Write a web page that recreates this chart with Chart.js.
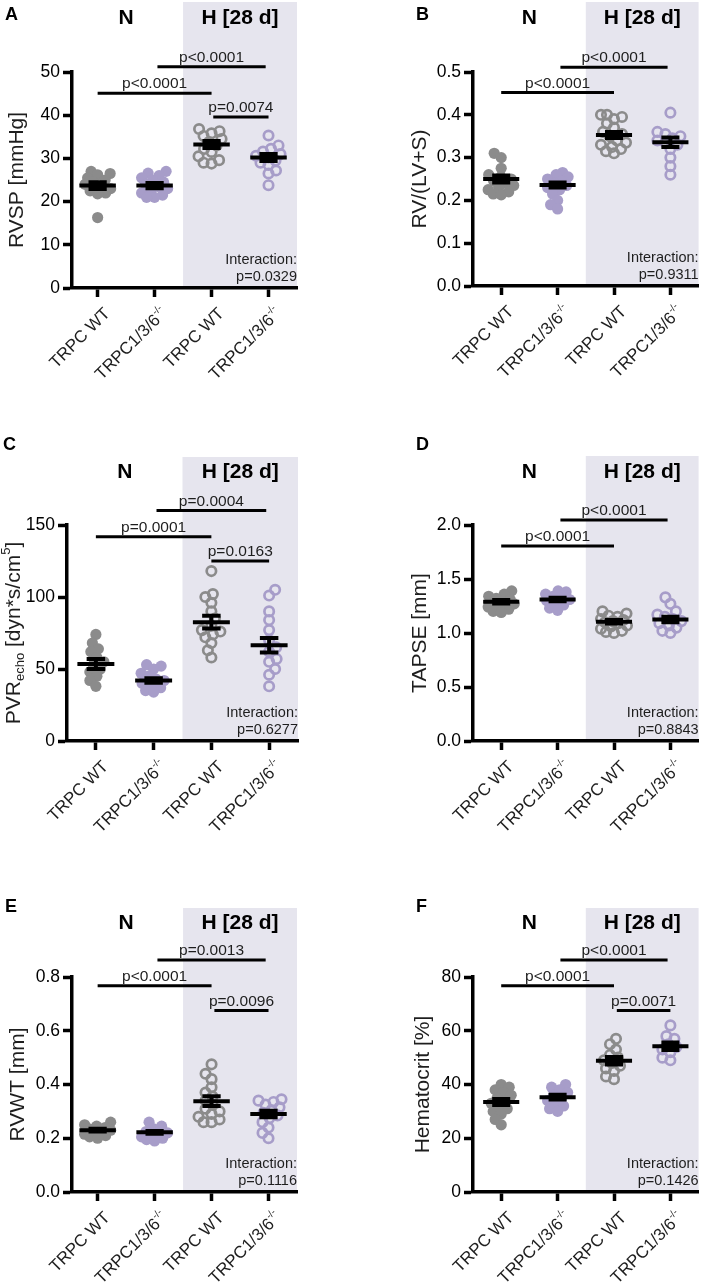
<!DOCTYPE html>
<html><head><meta charset="utf-8">
<script src="https://cdn.jsdelivr.net/npm/chart.js@4.4.0/dist/chart.umd.min.js"></script>
<style>
html,body{margin:0;padding:0;background:#fff;}
#wrap{position:relative;width:706px;height:1288px;overflow:hidden;background:#fff;}
.pn{position:absolute;}
canvas{display:block;}
</style></head><body><div id="wrap"></div>
<script>
// ---------- categories / labels ----------
const groups = ['TRPC WT', 'TRPC1/3/6', 'TRPC WT', 'TRPC1/3/6'];
const groupSup = ['', '-/-', '', '-/-'];
const conditions = ['N', 'H [28 d]'];
const panelLetters = ['A', 'B', 'C', 'D', 'E', 'F'];

// ---------- A: RVSP [mmHg] ----------
const rvspWtN = [27.0, 26.5, 26.2, 25.5, 25.0, 24.5, 24.0, 23.5, 23.0, 22.5, 22.0, 21.8, 16.3];
const rvspKoN = [27.0, 26.6, 26.0, 25.5, 25.0, 24.5, 24.0, 23.5, 23.0, 22.5, 22.0, 21.5, 21.0, 21.0];
const rvspWtH = [36.8, 36.3, 35.8, 35.2, 34.5, 33.8, 33.0, 32.2, 31.5, 30.5, 29.6, 29.0, 28.8];
const rvspKoH = [35.3, 33.0, 32.2, 31.6, 31.0, 30.6, 30.2, 29.5, 29.0, 28.5, 27.2, 26.5, 23.8];
const rvspMean = [23.7, 23.7, 33.2, 30.2];
const rvspSem = [0.8, 0.6, 0.8, 0.8];
const rvspTicks = [0, 10, 20, 30, 40, 50];

// ---------- B: RV/(LV+S) ----------
const rvWtN = [0.31, 0.30, 0.275, 0.26, 0.255, 0.25, 0.245, 0.24, 0.235, 0.23, 0.225, 0.22, 0.215, 0.213];
const rvKoN = [0.265, 0.26, 0.255, 0.25, 0.245, 0.24, 0.235, 0.23, 0.225, 0.215, 0.20, 0.19, 0.18];
const rvWtH = [0.40, 0.40, 0.395, 0.39, 0.38, 0.37, 0.36, 0.355, 0.35, 0.34, 0.335, 0.33, 0.325, 0.32, 0.315, 0.31];
const rvKoH = [0.405, 0.36, 0.355, 0.35, 0.345, 0.34, 0.335, 0.33, 0.32, 0.30, 0.28, 0.26];
const rvMean = [0.250, 0.236, 0.353, 0.336];
const rvSem = [0.008, 0.006, 0.007, 0.011];
const rvTicks = [0.0, 0.1, 0.2, 0.3, 0.4, 0.5];

// ---------- C: PVR echo ----------
const pvrWtN = [74, 68, 64, 62, 58, 55, 53, 50, 48, 45, 42, 38];
const pvrKoN = [53, 52, 50, 47, 45, 43, 42, 40, 39, 37, 35, 34];
const pvrWtH = [118, 102, 100, 96, 90, 85, 80, 77, 76, 74, 72, 68, 63, 58];
const pvrKoH = [105, 101, 90, 84, 77, 70, 65, 62, 57, 55, 50, 46, 38];
const pvrMean = [53.5, 42.0, 82.5, 66.5];
const pvrSem = [3.5, 1.6, 4.4, 5.0];
const pvrTicks = [0, 50, 100, 150];

// ---------- D: TAPSE [mm] ----------
const tapseWtN = [1.39, 1.36, 1.34, 1.32, 1.31, 1.30, 1.29, 1.28, 1.27, 1.26, 1.24, 1.22, 1.20, 1.19];
const tapseKoN = [1.39, 1.38, 1.36, 1.34, 1.32, 1.31, 1.30, 1.28, 1.26, 1.23, 1.21];
const tapseWtH = [1.20, 1.18, 1.16, 1.15, 1.13, 1.12, 1.11, 1.10, 1.09, 1.07, 1.06, 1.04, 1.02, 1.01, 1.00];
const tapseKoH = [1.33, 1.27, 1.20, 1.17, 1.15, 1.13, 1.11, 1.09, 1.07, 1.05, 1.02, 1.00];
const tapseMean = [1.29, 1.31, 1.105, 1.125];
const tapseSem = [0.016, 0.016, 0.016, 0.025];
const tapseTicks = [0.0, 0.5, 1.0, 1.5, 2.0];

// ---------- E: RVWT [mm] ----------
const rvwtWtN = [0.26, 0.25, 0.245, 0.24, 0.235, 0.23, 0.225, 0.22, 0.215, 0.21, 0.205, 0.20];
const rvwtKoN = [0.26, 0.245, 0.235, 0.225, 0.22, 0.215, 0.21, 0.205, 0.20, 0.195, 0.19];
const rvwtWtH = [0.475, 0.44, 0.42, 0.39, 0.37, 0.355, 0.34, 0.325, 0.31, 0.30, 0.29, 0.28, 0.27, 0.26, 0.26];
const rvwtKoH = [0.345, 0.34, 0.335, 0.325, 0.315, 0.305, 0.295, 0.285, 0.275, 0.26, 0.24, 0.22, 0.20];
const rvwtMean = [0.230, 0.222, 0.338, 0.290];
const rvwtSem = [0.005, 0.005, 0.018, 0.012];
const rvwtTicks = [0.0, 0.2, 0.4, 0.6, 0.8];

// ---------- F: Hematocrit [%] ----------
const hctWtN = [40, 39, 38, 37, 36, 35, 34, 33, 32, 31, 30, 29, 27, 25];
const hctKoN = [40, 39, 38, 37, 36, 35, 34, 33, 32, 31, 30];
const hctWtH = [57, 55, 53, 51, 50, 49, 48, 47, 46, 45, 43, 42];
const hctKoH = [62, 58, 57, 55, 54, 53, 52, 50, 49];
const hctMean = [33.5, 35.3, 48.8, 54.2];
const hctSem = [1.1, 0.9, 1.4, 1.4];
const hctTicks = [0, 20, 40, 60, 80];

// ---------- comparisons [from group, to group, bracket height, label] ----------
const rvspComp = [[1, 3, 45.1, 'p<0.0001'], [2.05, 3.95, 51.2, 'p<0.0001'], [3.03, 4, 39.6, 'p=0.0074']];
const rvComp = [[1, 3, 0.452, 'p<0.0001'], [2.05, 3.95, 0.511, 'p<0.0001']];
const pvrComp = [[1, 3, 141.9, 'p=0.0001'], [2.05, 3.95, 160, 'p=0.0004'], [3.0, 4, 125, 'p=0.0163']];
const tapseComp = [[1, 3, 1.806, 'p<0.0001'], [2.05, 3.95, 2.046, 'p<0.0001']];
const rvwtComp = [[1, 3, 0.767, 'p<0.0001'], [2.05, 3.95, 0.863, 'p=0.0013'], [3.05, 4, 0.675, 'p=0.0096']];
const hctComp = [[1, 3, 76.7, 'p<0.0001'], [2.05, 3.95, 86.3, 'p<0.0001'], [3.05, 4, 67.5, 'p=0.0071']];
const interactionP = ['p=0.0329', 'p=0.9311', 'p=0.6277', 'p=0.8843', 'p=0.1116', 'p=0.1426'];

// ---------- style ----------
const FF = "'Liberation Sans', Arial, Helvetica, sans-serif";
const GRAY = '#8b8b8b';
const LAV = '#a79dc9';
const SHADE = '#e6e5ee';
const TXT = '#1e1e1e';

// ---------- panel layout (page px) ----------
const panels = [
  { box: [0, 0, 353, 420], plot: [72, 297, 72, 288], xmin: 0.55, ymax: 50, dec: 0, ticks: rvspTicks,
    series: [rvspWtN, rvspKoN, rvspWtH, rvspKoH], mean: rvspMean, sem: rvspSem, comp: rvspComp,
    title: [{ t: 'RVSP [mmHg]' }], titleX: 15, letterXY: [5, 15], headY: 18, shadeTop: 2 },
  { box: [353, 0, 353, 420], plot: [473, 701, 72, 286], xmin: 0.5, ymax: 0.5, dec: 1, ticks: rvTicks,
    series: [rvWtN, rvKoN, rvWtH, rvKoH], mean: rvMean, sem: rvSem, comp: rvComp,
    title: [{ t: 'RV/(LV+S)' }], titleX: 418, letterXY: [416, 15], headY: 18, shadeTop: 2 },
  { box: [0, 420, 353, 440], plot: [67, 298, 525, 741], xmin: 0.5, ymax: 150, dec: 0, ticks: pvrTicks,
    series: [pvrWtN, pvrKoN, pvrWtH, pvrKoH], mean: pvrMean, sem: pvrSem, comp: pvrComp,
    title: [{ t: 'PVR' }, { t: 'echo', sub: true }, { t: ' [dyn*s/cm' }, { t: '5', sup: true }, { t: ']' }],
    titleX: 12, letterXY: [3, 445], headY: 472, shadeTop: 457 },
  { box: [353, 420, 353, 440], plot: [473, 701, 525, 741], xmin: 0.5, ymax: 2.0, dec: 1, ticks: tapseTicks,
    series: [tapseWtN, tapseKoN, tapseWtH, tapseKoH], mean: tapseMean, sem: tapseSem, comp: tapseComp,
    title: [{ t: 'TAPSE [mm]' }], titleX: 418, letterXY: [416, 445], headY: 472, shadeTop: 456 },
  { box: [0, 860, 353, 428], plot: [72, 297, 977, 1192], xmin: 0.55, ymax: 0.8, dec: 1, ticks: rvwtTicks,
    series: [rvwtWtN, rvwtKoN, rvwtWtH, rvwtKoH], mean: rvwtMean, sem: rvwtSem, comp: rvwtComp,
    title: [{ t: 'RVWT [mm]' }], titleX: 16, letterXY: [5, 907], headY: 923, shadeTop: 908 },
  { box: [353, 860, 353, 428], plot: [473, 701, 977, 1192], xmin: 0.5, ymax: 80, dec: 0, ticks: hctTicks,
    series: [hctWtN, hctKoN, hctWtH, hctKoH], mean: hctMean, sem: hctSem, comp: hctComp,
    title: [{ t: 'Hematocrit [%]' }], titleX: 421, letterXY: [416, 907], headY: 923, shadeTop: 908 }
];

// ---------- helpers ----------
function meanSegments(gx, m, s) {
  const hw = 0.32, cw = 0.16;
  return [
    { x: gx - hw, y: m }, { x: gx + hw, y: m }, { x: gx, y: null },
    { x: gx, y: m - s }, { x: gx, y: m + s }, { x: gx, y: null },
    { x: gx - cw, y: m + s }, { x: gx + cw, y: m + s }, { x: gx, y: null },
    { x: gx - cw, y: m - s }, { x: gx + cw, y: m - s }
  ];
}
function bracketSegments(comp) {
  const out = [];
  comp.forEach((c, i) => {
    if (i) out.push({ x: c[0], y: null });
    out.push({ x: c[0], y: c[2] }, { x: c[1], y: c[2] });
  });
  return out;
}
// compact beeswarm: each point takes the offset (within +-maxOff px) closest to centre
// that keeps distance d from earlier points, or else the least-crowded one
function swarm(pys, d, maxOff) {
  const idx = pys.map((_, i) => i).sort((a, b) => pys[b] - pys[a]);
  const placed = [];
  const off = new Array(pys.length).fill(0);
  const cands = [];
  for (let c = 0; c <= maxOff; c += 0.5) { cands.push(c); if (c) cands.push(-c); }
  let flip = 1;
  for (const i of idx) {
    const y = pys[i];
    let best = null, bestScore = -1;
    for (const c0 of cands) {
      const c = c0 * flip;
      let mind = Infinity;
      for (const q of placed) mind = Math.min(mind, Math.hypot(q.x - c, q.y - y));
      if (mind >= d) { best = c; bestScore = Infinity; break; }
      if (mind > bestScore + 0.3) { bestScore = mind; best = c; }
    }
    off[i] = best;
    placed.push({ x: best, y });
    flip = -flip;
  }
  return off;
}
function drawRich(ctx, parts, size, cx, cy, rot, align) {
  ctx.save();
  ctx.translate(cx, cy);
  ctx.rotate(rot);
  const small = Math.round(size * 0.6);
  let total = 0;
  parts.forEach(pt => {
    pt.sz = (pt.sub || pt.sup) ? small : size;
    ctx.font = `${pt.sz}px ${FF}`;
    pt.w = ctx.measureText(pt.t).width;
    total += pt.w;
  });
  let x = align === 'right' ? -total : -total / 2;
  const base = size * 0.36;
  ctx.textAlign = 'left';
  ctx.textBaseline = 'alphabetic';
  ctx.fillStyle = TXT;
  parts.forEach(pt => {
    ctx.font = `${pt.sz}px ${FF}`;
    let dy = base;
    if (pt.sub) dy = base + size * 0.22;
    if (pt.sup) dy = base - size * 0.45;
    ctx.fillText(pt.t, x, dy);
    x += pt.w;
  });
  ctx.restore();
}

function decoPlugin(p, pi) {
  const L = p.box[0], T = p.box[1];
  return {
    id: 'deco' + pi,
    beforeDraw(chart) {
      const ctx = chart.ctx, ca = chart.chartArea, xs = chart.scales.x;
      ctx.save();
      ctx.fillStyle = SHADE;
      const x0 = xs.getPixelForValue(2.5);
      ctx.fillRect(x0, p.shadeTop - T, ca.right - x0, ca.bottom - (p.shadeTop - T));
      ctx.restore();
    },
    afterDraw(chart) {
      const ctx = chart.ctx, ca = chart.chartArea, xs = chart.scales.x, ys = chart.scales.y;
      ctx.save();
      ctx.fillStyle = '#000';
      ctx.font = `bold 18px ${FF}`;
      ctx.textAlign = 'left'; ctx.textBaseline = 'middle';
      ctx.fillText(panelLetters[pi], p.letterXY[0] - L, p.letterXY[1] - T);
      ctx.font = `bold 21px ${FF}`;
      ctx.textAlign = 'center';
      ctx.fillText(conditions[0], xs.getPixelForValue(1.5), p.headY - T);
      ctx.fillText(conditions[1], xs.getPixelForValue(3.5), p.headY - T);
      ctx.font = `15.5px ${FF}`;
      ctx.fillStyle = TXT;
      ctx.textBaseline = 'alphabetic';
      p.comp.forEach(c => {
        const cx = xs.getPixelForValue((c[0] + c[1]) / 2);
        ctx.fillText(c[3], cx, ys.getPixelForValue(c[2]) - 5);
      });
      ctx.font = `14.5px ${FF}`;
      ctx.textAlign = 'right'; ctx.textBaseline = 'middle';
      ctx.fillText('Interaction:', ca.right, ca.bottom - 28);
      ctx.fillText(interactionP[pi], ca.right, ca.bottom - 11);
      ctx.restore();
      drawRich(ctx, p.title.map(o => Object.assign({}, o)), 21, p.titleX - L, (ca.top + ca.bottom) / 2, -Math.PI / 2, 'center');
      groups.forEach((g, i) => {
        const parts = [{ t: g }];
        if (groupSup[i]) parts.push({ t: groupSup[i], sup: true });
        drawRich(ctx, parts, 17, xs.getPixelForValue(i + 1) + 9, ca.bottom + 22, -Math.PI / 4, 'right');
      });
    }
  };
}

function makePanel(p, pi) {
  const [L, T, W, H] = p.box;
  const div = document.createElement('div');
  div.className = 'pn';
  div.style.left = L + 'px'; div.style.top = T + 'px';
  div.style.width = W + 'px'; div.style.height = H + 'px';
  const cv = document.createElement('canvas');
  cv.width = W; cv.height = H;
  cv.style.width = W + 'px'; cv.style.height = H + 'px';
  div.appendChild(cv);
  document.getElementById('wrap').appendChild(div);

  const yW = p.plot[0] - L, padTop = p.plot[2] - T, padRight = L + W - p.plot[1], xH = T + H - p.plot[3];
  const colors = [GRAY, LAV, GRAY, LAV];
  const datasets = [];
  p.mean.forEach((m, i) => {
    datasets.push({ type: 'line', data: meanSegments(i + 1, m, p.sem[i]), borderColor: '#000', borderWidth: 4,
      borderCapStyle: 'butt', pointRadius: 0, showLine: true, spanGaps: false, order: 0, clip: false });
  });
  datasets.push({ type: 'line', data: bracketSegments(p.comp), borderColor: '#000', borderWidth: 3,
    borderCapStyle: 'butt', pointRadius: 0, showLine: true, spanGaps: false, order: 0, clip: false });
  const ptStart = datasets.length;
  p.series.forEach((vals, i) => {
    const hollow = i >= 2;
    datasets.push({ type: 'scatter', data: vals.map(v => ({ x: i + 1, y: v })),
      pointRadius: hollow ? 4.7 : 5.6, pointBorderWidth: hollow ? 2.7 : 0,
      pointBackgroundColor: hollow ? 'rgba(0,0,0,0)' : colors[i], pointBorderColor: colors[i],
      showLine: false, order: 2, clip: false });
  });

  const chart = new Chart(cv, {
    type: 'scatter',
    data: { datasets },
    options: {
      responsive: false, animation: false, events: [],
      layout: { padding: { top: padTop, right: padRight, left: 0, bottom: 0 } },
      plugins: { legend: { display: false }, tooltip: { enabled: false } },
      scales: {
        x: { type: 'linear', min: p.xmin, max: 4.5,
          afterBuildTicks: s => { s.ticks = groups.map((g, i) => ({ value: i + 1 })); },
          afterFit: s => { s.height = xH; },
          ticks: { display: false },
          grid: { drawOnChartArea: false, drawTicks: true, tickLength: 9, tickWidth: 3.5, tickColor: '#000', color: '#000' },
          border: { display: true, color: '#000', width: 3.5 } },
        y: { type: 'linear', min: 0, max: p.ymax,
          afterBuildTicks: s => { s.ticks = p.ticks.map(v => ({ value: v })); },
          afterFit: s => { s.width = yW; },
          ticks: { color: '#000', font: { family: FF, size: 17.5 }, padding: 3, callback: v => Number(v).toFixed(p.dec) },
          grid: { drawOnChartArea: false, drawTicks: true, tickLength: 9, tickWidth: 3.5, tickColor: '#000', color: '#000' },
          border: { display: true, color: '#000', width: 3.5 } }
      }
    },
    plugins: [decoPlugin(p, pi)]
  });

  const xs = chart.scales.x, ys = chart.scales.y;
  p.series.forEach((vals, i) => {
    const cx = xs.getPixelForValue(i + 1);
    const off = swarm(vals.map(v => ys.getPixelForValue(v)), 8, 13);
    chart.data.datasets[ptStart + i].data = vals.map((v, k) => ({ x: xs.getValueForPixel(cx + off[k]), y: v }));
  });
  chart.update('none');
}

panels.forEach(makePanel);
</script>
</body></html>
